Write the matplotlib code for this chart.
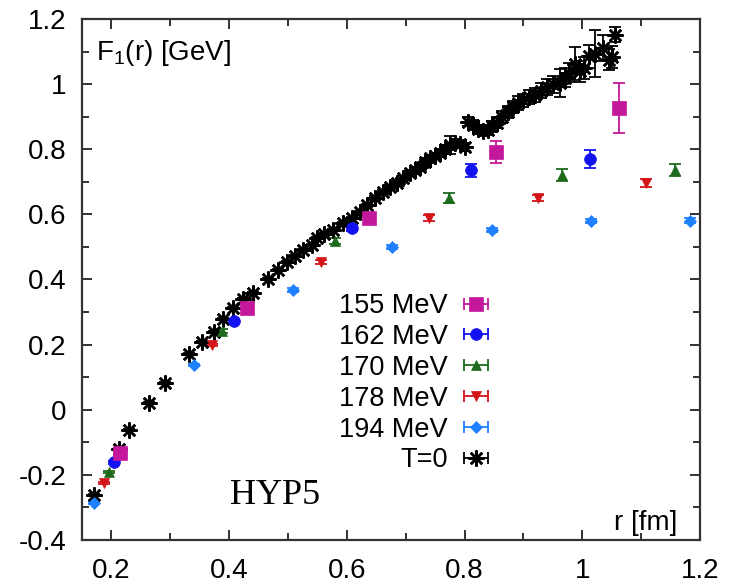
import numpy as np
import matplotlib
matplotlib.use("Agg")
import matplotlib.pyplot as plt
from matplotlib.lines import Line2D
from matplotlib.legend_handler import HandlerLine2D, HandlerTuple
from matplotlib.ticker import MultipleLocator, FuncFormatter

plt.rcParams['font.family'] = ['Liberation Sans', 'DejaVu Sans']
plt.rcParams['axes.unicode_minus'] = False

# Free energy F_1(r) at several temperatures (HYP5 smearing)
r155 = [0.215, 0.430, 0.638, 0.853, 1.062]
f155 = [-0.133, 0.312, 0.589, 0.792, 0.927]
e155 = [0.008, 0.008, 0.012, 0.034, 0.077]

r162 = [0.204, 0.408, 0.609, 0.811, 1.013]
f162 = [-0.161, 0.272, 0.558, 0.736, 0.770]
e162 = [0.005, 0.006, 0.008, 0.020, 0.028]

r170 = [0.196, 0.388, 0.580, 0.774, 0.965, 1.157]
f170 = [-0.191, 0.242, 0.518, 0.650, 0.721, 0.736]
e170 = [0.004, 0.005, 0.010, 0.015, 0.018, 0.018]

r178 = [0.187, 0.371, 0.556, 0.740, 0.925, 1.108]
f178 = [-0.225, 0.199, 0.454, 0.589, 0.650, 0.696]
e178 = [0.003, 0.004, 0.006, 0.008, 0.010, 0.012]

r194 = [0.170, 0.340, 0.508, 0.677, 0.847, 1.015, 1.183]
f194 = [-0.286, 0.137, 0.368, 0.500, 0.552, 0.580, 0.580]
e194 = [0.003, 0.004, 0.005, 0.006, 0.006, 0.007, 0.008]

# Zero-temperature potential
r0 = [0.170, 0.213, 0.230, 0.264, 0.291, 0.332, 0.354, 0.374, 0.390, 0.407,
      0.424, 0.441, 0.466, 0.483, 0.498, 0.512, 0.526, 0.541, 0.549, 0.562,
      0.576, 0.593, 0.609, 0.622, 0.634, 0.648, 0.661, 0.673, 0.685, 0.696,
      0.707, 0.716, 0.724, 0.733, 0.741, 0.750, 0.758, 0.766, 0.775, 0.783,
      0.792, 0.800, 0.806, 0.814, 0.822, 0.831, 0.839, 0.847, 0.855, 0.864,
      0.873, 0.882, 0.890, 0.899, 0.910, 0.920, 0.930, 0.940, 0.950, 0.962,
      0.970, 0.978, 0.988, 0.996, 1.003, 1.012, 1.022, 1.035, 1.045, 1.050,
      1.056]
f0 = [-0.262, -0.121, -0.062, 0.021, 0.082, 0.171, 0.208, 0.239, 0.279, 0.312,
      0.340, 0.358, 0.401, 0.429, 0.454, 0.472, 0.491, 0.506, 0.527, 0.540,
      0.552, 0.573, 0.589, 0.606, 0.628, 0.650, 0.669, 0.683, 0.696, 0.712,
      0.727, 0.737, 0.745, 0.760, 0.773, 0.780, 0.788, 0.800, 0.813, 0.818,
      0.815, 0.808, 0.885, 0.875, 0.862, 0.855, 0.860, 0.870, 0.882, 0.900,
      0.915, 0.930, 0.942, 0.951, 0.960, 0.967, 0.980, 0.991, 1.000, 1.003,
      1.020, 1.035, 1.063, 1.040, 1.050, 1.085, 1.094, 1.110, 1.075, 1.083,
      1.152]
e0 = [0.002, 0.002, 0.002, 0.002, 0.002, 0.002, 0.002, 0.002, 0.002, 0.002,
      0.003, 0.003, 0.003, 0.003, 0.003, 0.003, 0.003, 0.003, 0.004, 0.004,
      0.004, 0.004, 0.004, 0.005, 0.005, 0.005, 0.005, 0.006, 0.006, 0.006,
      0.006, 0.007, 0.007, 0.008, 0.008, 0.010, 0.010, 0.012, 0.028, 0.012,
      0.012, 0.012, 0.014, 0.014, 0.014, 0.015, 0.015, 0.016, 0.016, 0.018,
      0.018, 0.018, 0.020, 0.020, 0.022, 0.022, 0.024, 0.024, 0.026, 0.042,
      0.028, 0.030, 0.050, 0.032, 0.034, 0.036, 0.072, 0.040, 0.033, 0.033,
      0.023]

labels = ["155 MeV", "162 MeV", "170 MeV", "178 MeV", "194 MeV", "T=0"]
colors = ["#c4189c", "#1212f0", "#1d6a1d", "#d41418", "#1f80ff", "#000000"]
markers = ["s", "o", "^", "v", "D", (8, 2, 0)]
msizes = [9.5, 8.5, 7.5, 7.5, 6.0, 11.5]

series = [(r155, f155, e155), (r162, f162, e162), (r170, f170, e170),
          (r178, f178, e178), (r194, f194, e194), (r0, f0, e0)]

fig = plt.figure(figsize=(7.34, 5.83), dpi=100)
ax = fig.add_axes([0.1117, 0.0738, 0.8420, 0.8936])

order = [5, 4, 3, 2, 1, 0]
for i in order:
    r, f, e = series[i]
    ax.errorbar(r, f, yerr=e, fmt='none', ecolor=colors[i], elinewidth=1.3,
                capsize=4.5, capthick=1.3, zorder=2 + (5 - i) * 0.01)
    ax.plot(r, f, ls='none', marker=markers[i], ms=msizes[i], color=colors[i],
            mec=colors[i], mew=1.8 if i == 5 else 0.5,
            zorder=3 + (5 - i) * 0.01)

ax.set_xlim(0.15, 1.2)
ax.set_ylim(-0.4, 1.2)
ax.xaxis.set_major_locator(MultipleLocator(0.2))
ax.xaxis.set_minor_locator(MultipleLocator(0.1))
ax.yaxis.set_major_locator(MultipleLocator(0.2))
ax.yaxis.set_minor_locator(MultipleLocator(0.1))
fmt = FuncFormatter(lambda v, p: "%g" % round(v, 2))
ax.xaxis.set_major_formatter(fmt)
ax.yaxis.set_major_formatter(fmt)
ax.tick_params(which='both', direction='in', top=True, right=True,
               colors='#222222', labelcolor='black', labelsize=20)
ax.tick_params(which='major', length=7, width=1.3)
ax.tick_params(which='minor', length=5, width=1.3)
ax.tick_params(axis='y', pad=11)
ax.tick_params(axis='x', pad=13)
for sp in ax.spines.values():
    sp.set_linewidth(1.6)
    sp.set_color('#333333')

ax.text(0.023, 0.921, r'$\mathregular{F_1}$(r) [GeV]', transform=ax.transAxes,
        fontsize=20, ha='left', va='baseline')
ax.text(0.963, 0.019, 'r [fm]', transform=ax.transAxes,
        fontsize=20, ha='right', va='baseline')
ax.text(0.401, -0.290, 'HYP5', fontsize=26, family='Liberation Serif',
        ha='left', va='baseline')

# Legend samples: horizontal bar with end caps plus the point marker
handles = []
hmap = {tuple: HandlerTuple(ndivide=1, pad=0)}
for c, m, ms, i in zip(colors, markers, msizes, range(6)):
    bar = Line2D([], [], color=c, lw=1.3, marker='|', markersize=8,
                 markeredgewidth=1.3)
    mk = Line2D([], [], color=c, ls='none', marker=m, markersize=ms,
                mec=c, mew=1.8 if i == 5 else 0.5)
    hmap[bar] = HandlerLine2D(numpoints=2, marker_pad=0)
    hmap[mk] = HandlerLine2D(numpoints=1)
    handles.append((bar, mk))

ax.legend(handles, labels, handler_map=hmap, loc='upper right',
          bbox_to_anchor=(0.657, 0.474), bbox_transform=ax.transAxes,
          frameon=False, markerfirst=False, fontsize=19.5, labelspacing=0.18,
          handlelength=0.9, handletextpad=0.6, borderpad=0, borderaxespad=0)

fig.savefig('out.png', dpi=100)
